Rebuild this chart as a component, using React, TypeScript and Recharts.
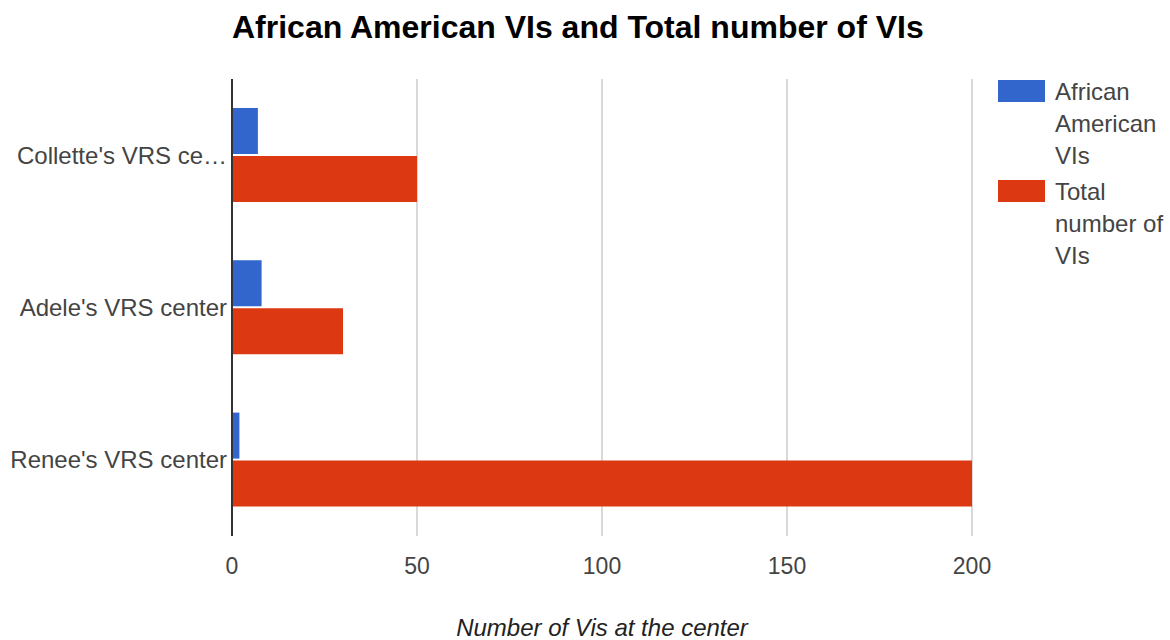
import React from 'react';
import { BarChart, Bar, XAxis, YAxis, CartesianGrid, Legend } from 'recharts';

const categories = ["Collette's VRS center", "Adele's VRS center", "Renee's VRS center"];
const yTickLabels = ["Collette's VRS ce\u2026", "Adele's VRS center", "Renee's VRS center"];
const africanAmericanVIs = [7, 8, 2];
const totalVIs = [50, 30, 200];
const xTicks = [0, 50, 100, 150, 200];

const seriesNames = ['African American VIs', 'Total number of VIs'];
const seriesColors = ['#3366cc', '#dc3912'];
const legendLines = [['African', 'American', 'VIs'], ['Total', 'number of', 'VIs']];

const data = categories.map((name, i) => ({
  name,
  aa: africanAmericanVIs[i],
  total: totalVIs[i],
}));

const FONT = '"Liberation Sans", Arial, sans-serif';

const LegendContent = () => (
  <div style={{ fontFamily: FONT, fontSize: 24, color: '#444' }}>
    {seriesNames.map((n, i) => (
      <div key={n} style={{ display: 'flex', alignItems: 'flex-start', marginBottom: i === 0 ? 6 : 0 }}>
        <div style={{ width: 47, height: 22, background: seriesColors[i], marginTop: 2, flexShrink: 0 }} />
        <div style={{ marginLeft: 10, lineHeight: '32px', marginTop: -2 }}>
          {legendLines[i].map((l) => (
            <div key={l} style={{ whiteSpace: 'nowrap' }}>{l}</div>
          ))}
        </div>
      </div>
    ))}
  </div>
);

export default function App() {
  return (
    <div style={{ position: 'absolute', left: 0, top: 0, width: 1170, height: 640, background: '#fff', fontFamily: FONT }}>
      <div
        style={{
          position: 'absolute',
          left: 232,
          top: 9,
          fontSize: 32,
          fontWeight: 'bold',
          color: '#000',
          whiteSpace: 'nowrap',
          lineHeight: '36px',
        }}
      >
        African American VIs and Total number of VIs
      </div>
      <BarChart
        width={1170}
        height={640}
        data={data}
        layout="vertical"
        margin={{ top: 79, right: 198, bottom: 0, left: 0 }}
        barCategoryGap="19%"
        barGap={2}
      >
        <CartesianGrid horizontal={false} stroke="#cccccc" strokeWidth={1.5} />
        <XAxis
          type="number"
          domain={[0, 200]}
          ticks={xTicks}
          axisLine={false}
          tickLine={false}
          tickSize={0}
          tickMargin={22}
          height={104}
          tick={{ fill: '#444', fontSize: 23, fontFamily: FONT }}
          label={{
            value: 'Number of Vis at the center',
            position: 'insideBottom',
            offset: 4,
            fill: '#222',
            fontSize: 24,
            fontStyle: 'italic',
            fontFamily: FONT,
          }}
        />
        <YAxis
          type="category"
          dataKey="name"
          width={232}
          tickLine={false}
          tickSize={0}
          tickMargin={5}
          axisLine={{ stroke: '#333', strokeWidth: 2 }}
          tick={{ fill: '#444', fontSize: 24, fontFamily: FONT }}
          tickFormatter={(v: string, i: number) => yTickLabels[i] ?? v}
        />
        <Legend
          layout="vertical"
          align="center"
          verticalAlign="middle"
          content={<LegendContent />}
          wrapperStyle={{ left: 998, top: 78, width: 172 }}
        />
        <Bar dataKey="aa" name={seriesNames[0]} fill={seriesColors[0]} isAnimationActive={false} />
        <Bar dataKey="total" name={seriesNames[1]} fill={seriesColors[1]} isAnimationActive={false} />
      </BarChart>
    </div>
  );
}
